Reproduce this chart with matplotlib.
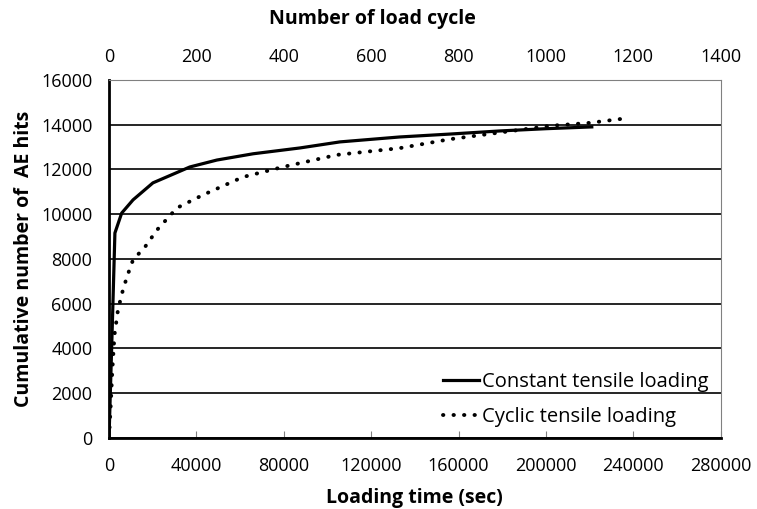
import numpy as np
import matplotlib.pyplot as plt

plt.rcParams['font.family'] = ['Open Sans', 'DejaVu Sans']

# Constant tensile loading: time (s) vs cumulative AE hits
const_t = [0, 1500, 2700, 5800, 11000, 20100, 37000, 49400, 66000, 87400,
           105700, 133000, 156000, 179000, 200000, 221000]
const_hits = [0, 5000, 9160, 10050, 10640, 11400, 12110, 12420, 12700, 12960,
              13230, 13450, 13580, 13720, 13820, 13900]

# Cyclic tensile loading: time (s) vs cumulative AE hits
cyc_t = [0, 800, 1500, 2500, 4100, 6000, 8200, 11000, 16500, 22000, 31100,
         43000, 61300, 79600, 104300, 133000, 156000, 179000, 202000, 220000,
         234700]
cyc_hits = [0, 1500, 3000, 4600, 5720, 6480, 7200, 7960, 8540, 9300, 10280,
            10860, 11660, 12110, 12650, 12950, 13350, 13650, 13950, 14080,
            14260]

fig = plt.figure(figsize=(7.57, 5.09), dpi=100)
ax = fig.add_axes([0.144, 0.1395, 0.808, 0.7035])

ax.plot(const_t, const_hits, color='black', lw=2.3, label='Constant tensile loading')
ax.plot(cyc_t, cyc_hits, color='black', lw=2.8, linestyle=(0, (0.1, 2.6)),
        dash_capstyle='round', label='Cyclic tensile loading')

ax.set_xlim(0, 280000)
ax.set_ylim(0, 16000)
ax.set_xticks(np.arange(0, 280001, 40000))
ax.set_yticks(np.arange(0, 16001, 2000))
ax.yaxis.grid(True, color='black', lw=1.2)
ax.set_axisbelow(True)
ax.tick_params(axis='x', direction='in', length=5, color='#808080',
               labelsize=13, pad=14)
ax.tick_params(axis='y', length=0, labelsize=13, pad=12)
ax.set_xlabel('Loading time (sec)', fontsize=14, fontweight='bold', labelpad=9)
ax.set_ylabel('Cumulative number of  AE hits', fontsize=14, fontweight='bold', labelpad=5)
for s in ax.spines.values():
    s.set_color('#808080')
ax.spines['bottom'].set_color('black')
ax.spines['left'].set_color('black')
ax.spines['bottom'].set_linewidth(2)
ax.spines['left'].set_linewidth(2)

# top axis in load cycles (1 cycle = 200 s)
top = ax.twiny()
top.set_xlim(0, 1400)
top.set_xticks(np.arange(0, 1401, 200))
top.tick_params(axis='x', direction='in', length=0, labelsize=13, pad=10)
top.set_xlabel('Number of load cycle', fontsize=14, fontweight='bold')
top.xaxis.set_label_coords(0.43, 1.155)
for s in top.spines.values():
    s.set_visible(False)

leg = ax.legend(loc='lower right', bbox_to_anchor=(1.01, -0.02), frameon=False,
                fontsize=14.5, handlelength=1.8, handletextpad=0.15,
                labelspacing=0.75)

fig.savefig('out.png', dpi=100)
